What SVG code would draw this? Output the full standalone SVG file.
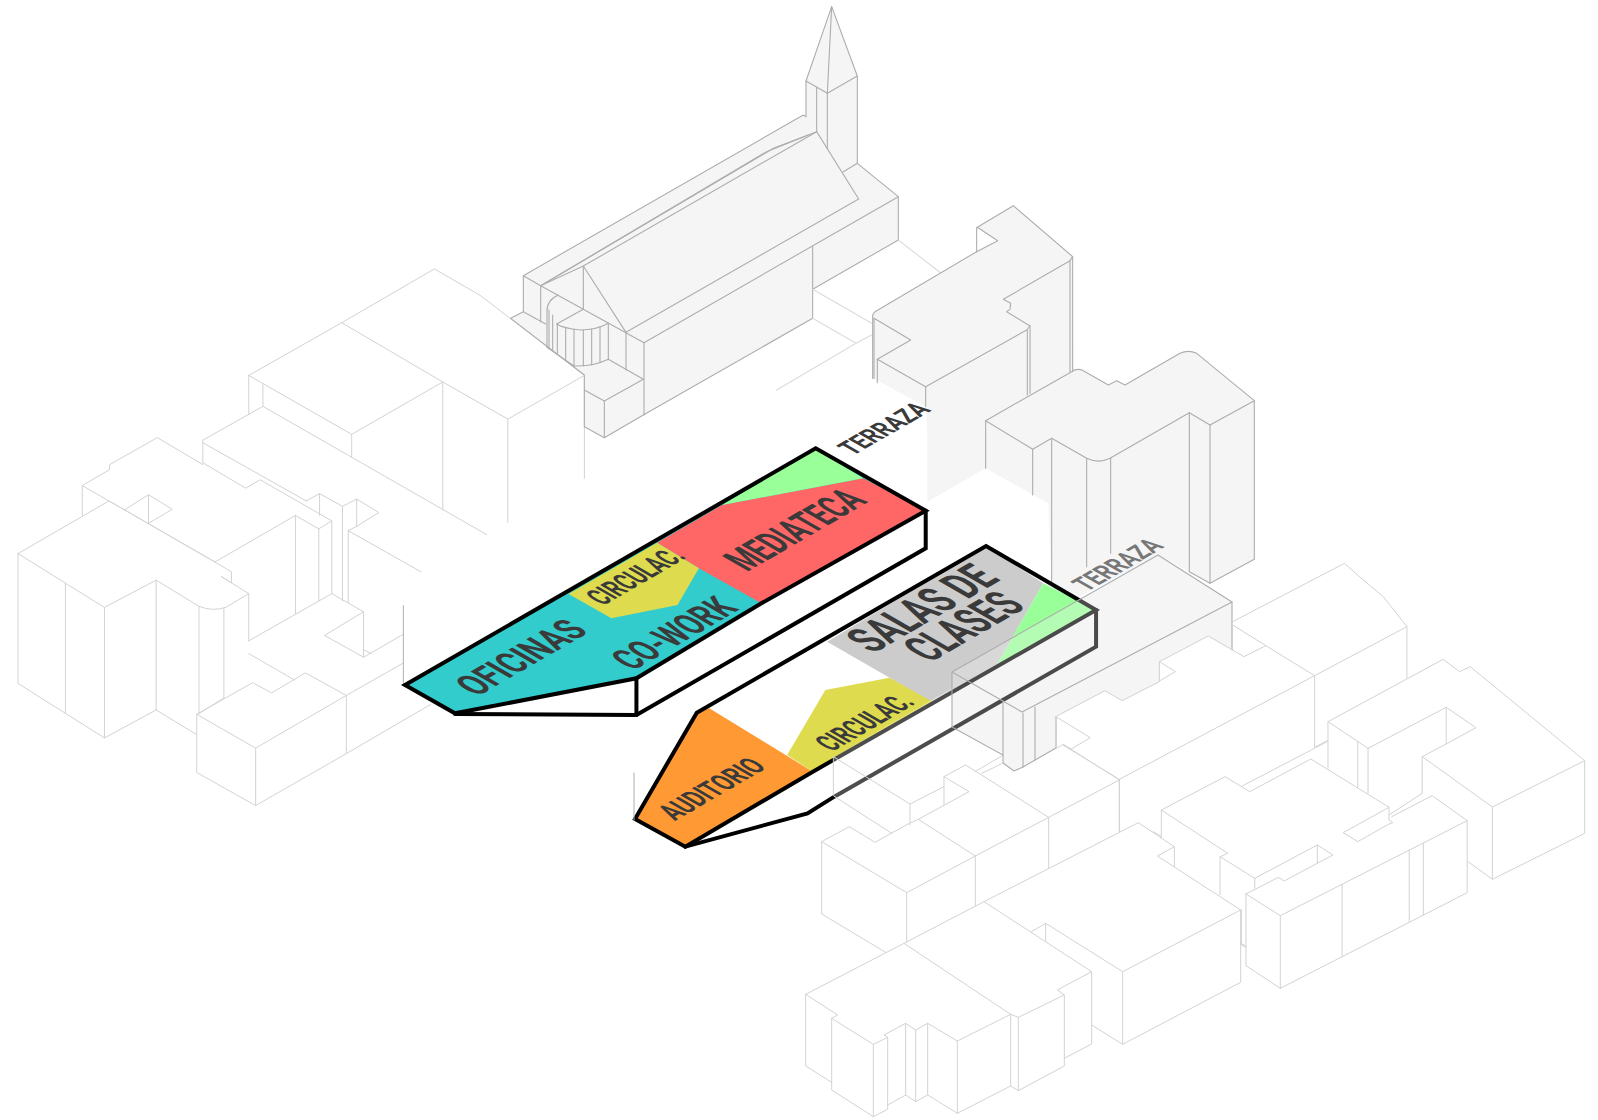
<svg xmlns="http://www.w3.org/2000/svg" width="1598" height="1120" viewBox="0 0 1598 1120">
<style>
polyline,polygon,path{vector-effect:non-scaling-stroke;stroke-linejoin:round;stroke-linecap:round}
.l polyline,.l path{fill:none;stroke:#d3d3d3;stroke-width:1}
.g polyline,.g path{fill:none;stroke:#adadad;stroke-width:1.1}
.f{fill:#f5f5f5;stroke:none}
.o{fill:none;stroke:#000;stroke-width:4;stroke-linejoin:miter}
text{font-family:Roboto,"Liberation Sans",sans-serif;font-weight:700;fill:#3a3a3a}
</style>
<rect width="1598" height="1120" fill="#fff"/>

<g id="edificios-izquierda" class="l" transform="translate(0,250) scale(.3827,.3636)">
<polyline points="650,345 893,200 1135,52 1255,125 1527,345 1327,465 1157,363 893,200"/>
<polyline points="650,345 919,507 1157,363"/>
<polyline points="1327,465 1327,750"/><polyline points="1157,363 1157,715"/><polyline points="919,507 919,570"/>
<polyline points="650,345 650,450"/><polyline points="687,368 687,430"/><polyline points="1527,345 1527,628"/>
<polyline points="530,523 687,430 1272,783"/><polyline points="530,523 530,585"/><polyline points="530,530 800,690"/>
<polyline points="530,585 642,655 680,632 867,745 867,945 950,995 950,1120 848,1060 950,995"/>
<polyline points="800,690 835,670 895,705 932,685 990,722 932,760 932,685"/>
<polyline points="835,670 835,730"/><polyline points="895,705 895,965"/><polyline points="910,770 910,970"/>
<polyline points="932,760 910,772 1100,885"/>
<polyline points="772,730 833,767 867,745"/><polyline points="833,767 833,965"/>
<polyline points="772,730 772,1000"/><polyline points="772,730 562,858"/>
<polyline points="47,835 285,690 605,885 605,915 578,898 650,945 590,983"/>
<path d="M590,983 Q555,995 520,980 L408,908 L273,983 L47,835"/>
<polyline points="47,835 47,1192 273,1342 273,983"/><polyline points="171,917 171,1275"/>
<polyline points="408,908 408,1265 273,1342"/><polyline points="408,1265 514,1333"/>
<polyline points="520,980 520,1275"/><polyline points="585,985 585,1232"/><polyline points="650,945 650,1075"/>
<polyline points="215,648 285,605 287,590 411,516 530,590"/><polyline points="215,648 215,730"/><polyline points="215,648 562,858"/>
<polyline points="325,715 388,673 450,713 388,752"/><polyline points="388,673 388,752"/>
<polyline points="650,1075 867,945"/><polyline points="650,1110 770,1183"/>
<polyline points="514,1277 660,1190 710,1218 798,1163 905,1225 668,1370 514,1277"/>
<polyline points="514,1277 514,1437 668,1528 668,1370"/><polyline points="668,1528 905,1385 905,1225"/>
<polyline points="905,1385 1125,1250"/><polyline points="905,1225 1052,1137"/><polyline points="950,1120 1052,1058"/>
<polyline points="952,1100 970,1110"/><polyline points="585,1232 520,1275"/>
<polyline style="stroke:#b0b0b0" points="1054,978 1054,1195"/>
</g>

<g id="iglesia" class="g" transform="translate(500,0) scale(.33333)">
<polygon class="f" points="995,20 1072,228 1072,490 1195,590 1195,720 938,868 938,955 430,1245 313,1313 253,1280 253,1125 32,955 70,935 70,827 910,345 918,350 918,243"/>
<polyline points="995,20 1072,228 1072,490 1195,590 1195,720 938,868 938,955 430,1245 313,1313 253,1280 253,1125 32,955 70,935 70,827 910,345 918,350 918,243 995,20"/>
<polyline points="918,243 982,280 1072,228"/><polyline points="982,280 995,20"/><polyline points="982,280 982,445"/><polyline points="950,262 950,395"/>
<polyline points="70,827 122,857 122,965"/><polyline points="70,935 137,972"/>
<polyline points="122,857 432,1028 432,1245"/>
<polyline points="250,798 950,395 1076,597 378,997 250,798"/>
<polyline points="122,857 250,798 250,928"/>
<polyline points="122,857 800,455 925,405"/><polyline points="135,850 820,445 950,395"/>
<polyline points="432,1028 1195,590"/><polyline points="1030,515 1072,490"/><polyline points="938,740 938,868"/>
<path d="M175,885 Q140,900 141,935 L141,1042"/><polyline points="170,972 250,928"/>
<path d="M170,972 Q190,985 240,990 Q290,990 325,970"/>
<path d="M141,1042 L222,1098 Q280,1100 325,1078"/>
<polyline points="147,930 147,1046"/><polyline points="158,945 158,1053"/><polyline points="172,972 172,1063"/><polyline points="197,982 197,1080"/><polyline points="222,988 222,1098"/><polyline points="250,990 250,1098"/><polyline points="275,987 275,1095"/><polyline points="300,980 300,1087"/><polyline points="325,970 325,1078"/>
<polyline points="378,997 378,1110"/><polyline points="325,1078 430,1138"/><polyline points="430,1138 313,1203 253,1170"/><polyline points="313,1203 313,1313"/>
<polyline style="stroke:#dcdcdc" points="938,868 1115,970"/><polyline style="stroke:#dcdcdc" points="938,955 1068,1030 1115,1005"/><polyline style="stroke:#dcdcdc" points="1068,1030 830,1170"/><polyline style="stroke:#dcdcdc" points="1195,720 1330,825"/>
</g>

<g id="edificios-fondo" class="g" transform="translate(850,190) scale(.33333)">
<polygon class="f" points="68,375 75,365 380,185 443,152 382,112 490,47 668,200 670,545 407,692 407,835 232,935 232,730 227,650 70,565"/>
<polygon class="f" points="407,692 665,545 680,538 697,540 775,585 800,572 825,585 990,490 1015,483 1040,490 1213,632 1213,1108 1080,1180 1018,1145 925,1095 680,1225 605,1270 605,1185 595,940 407,835"/>
<polyline points="68,565 68,375 75,365 380,185 443,152 382,112 490,47 668,200 668,545"/><polyline points="72,385 72,565"/>
<polyline points="72,385 182,450 82,508 227,590 530,420 540,408 470,365 480,358 482,340 460,328 660,212 668,200"/>
<polyline points="82,508 82,578"/><polyline points="227,590 227,650"/><polyline points="532,420 532,615"/><polyline points="540,408 540,610"/><polyline points="660,212 660,545"/><polyline points="380,112 380,185"/>
<path d="M407,835 L407,692 L665,545 Q682,533 700,542 L775,585 L800,572 L825,585 L990,490 Q1015,478 1040,490 L1213,632 L1213,1108 L1080,1180 L1018,1145"/>
<path d="M407,692 L548,778 L605,745 L710,805 Q745,822 780,805 L1018,668 L1080,705 L1213,632"/>
<polyline points="548,778 548,915"/><polyline points="605,745 605,1185"/><polyline points="710,805 710,1130"/><polyline points="782,805 782,1090"/><polyline points="1018,668 1018,1145"/><polyline points="1080,705 1080,1180"/>
</g>

<g id="terraza-base">
<polygon class="f" points="952,672 1158,555 1232,602 1232,650 1208,636 1160,661 1160,682 1122,701 1105,691 1056,717 1056,748 1023,767 1014,771 1003,763 1003,753 952,727"/>
</g>

<text transform="matrix(.866,-.5,.866,.5,853,456)" font-size="28" textLength="91" lengthAdjust="spacingAndGlyphs">TERRAZA</text>
<text transform="matrix(.866,-.5,.866,.5,1087,592)" font-size="28" textLength="90" lengthAdjust="spacingAndGlyphs" style="fill:#777">TERRAZA</text>

<g id="bloque-superior" transform="translate(390,420) scale(.35714,.33333)">
<polygon fill="#33cccc" points="42,795 1192,85 1500,272 1040,550 690,775 182,880"/>
<polygon fill="#ff6666" points="748,368 930,255 1325,175 1500,272 1040,550 865,445"/>
<polygon fill="#99ff99" points="930,255 1192,85 1325,175"/>
<polygon fill="#dfdb4e" points="500,522 748,368 865,445 805,555 620,595"/>
<polygon class="o" points="42,795 1192,85 1500,272 1040,550 690,775 182,880"/>
<polyline class="o" points="182,882 690,885 1500,385 1500,272"/>
<polyline class="o" points="690,775 690,885"/>
</g>

<g id="bloque-inferior" transform="translate(620,530) scale(.35714,.33333)">
<polygon fill="#ff9933" points="42,867 215,548 250,535 540,725 183,950"/>
<polygon fill="#cccccc" points="580,335 1025,48 1185,160 1055,405 870,515 755,443"/>
<polygon fill="#dfdb4e" points="755,443 875,515 540,725 468,675 575,480"/>
<polygon fill="#99ff99" points="1185,160 1333,240 1055,405"/>
<polygon class="o" points="42,867 215,548 1025,48 1333,240 540,725 183,950"/>
<polyline class="o" points="183,950 525,850 600,800 1333,350 1333,240"/>
</g>

<g id="terraza" class="g">
<polygon fill="#f5f5f5" fill-opacity=".3" points="952,672 1158,555 1232,602 1232,650 1208,636 1160,661 1160,682 1122,701 1105,691 1056,717 1056,748 1023,767 1014,771 1003,763 1003,753 952,727"/>
<polygon fill="#fff" fill-opacity=".3" points="834,757 952,688 952,727 972,739 850,808 834,797"/>
<polyline points="952,672 1158,555 1232,602 1022,712 952,672"/>
<polyline points="952,672 952,727 1003,755"/><polyline points="1232,602 1232,650"/>
<polyline points="1003,701 1003,763 1014,771 1023,767 1056,748 1056,717"/><polyline points="1023,713 1023,767"/><polyline points="1035,707 1035,760"/>
</g>

<g id="edificios-derecha" class="l" transform="translate(1000,550) scale(.38139,.33333)">
<polyline points="610,215 903,40 940,78 1005,140 1067,230 825,377 697,287 610,225"/>
<polyline points="1067,230 1067,385"/><polyline points="825,377 825,592 858,572"/>
<polyline points="146,590 146,500 275,422 320,452 418,395 418,335 546,258 640,320 697,287"/>
<polyline points="825,377 313,688 165,585 187,597 237,563 146,500"/>
<polyline points="313,688 313,845"/><polyline points="418,335 460,365 418,393"/>
<polyline points="860,655 860,515 1162,328 1205,365 1233,350 1533,632 1291,771 1107,620 1170,582 1170,472 1248,533 1170,582"/>
<polyline points="1170,472 965,595 860,515"/><polyline points="938,575 938,713"/><polyline points="965,595 965,730"/><polyline points="1107,620 1107,730"/>
<polyline points="1291,771 1291,988 1533,850 1533,632"/><polyline points="1291,988 1227,935"/>
<polyline points="423,780 590,680 655,725 815,627 1020,772 1020,810 1030,818 1020,822 938,875 900,848 1020,772"/>
<polyline points="635,708 858,575"/><polyline points="1020,795 1107,730"/>
<polyline points="423,865 423,780 597,910 577,920 668,985 832,885 873,915 745,993 730,982 645,1032"/>
<polyline points="832,885 832,940"/><polyline points="577,920 577,1035"/><polyline points="668,985 668,1015"/>
<polyline points="645,1032 735,1097 1225,812 1133,737 1027,800"/>
<polyline points="645,1032 645,1247 735,1315 735,1097"/><polyline points="735,1315 1225,1028 1225,812"/>
<polyline points="897,1003 897,1220"/><polyline points="1073,900 1073,1115"/><polyline points="1110,880 1110,1095"/>
<polyline points="633,1080 633,1185 645,1192"/>
</g>

<g id="edificios-sur" class="l" transform="translate(780,730) scale(.33333)">
<polyline points="372,640 612,515 1075,278 1183,350 1183,410"/><polyline points="1183,350 1132,378 1382,540 1028,725 797,580 755,605"/>
<polyline points="612,515 935,725"/><polyline points="1382,540 1382,757 1028,943 1028,725"/><polyline points="797,580 797,632"/>
<polyline points="935,885 1028,943"/><polyline points="1382,640 1398,648"/><polyline points="1018,150 1018,305"/><polyline points="1120,305 1145,320"/>
<polyline points="77,793 372,640 692,853 532,933 443,880 407,900 377,880 312,915 323,922 280,943 155,865 173,855 77,793"/>
<polyline points="77,793 77,1008 155,1057"/><polyline points="155,865 155,1080 280,1160 280,943"/><polyline points="280,1160 323,1138 323,922"/>
<polyline points="323,1125 377,1095 407,1115 443,1095 532,1150 532,933"/><polyline points="377,880 377,1095"/><polyline points="407,900 407,1115"/><polyline points="443,880 443,1095"/>
<polyline points="532,1150 692,1068 692,853"/><polyline points="692,1068 715,1082 715,862 692,853"/><polyline points="715,1082 853,1008 853,795 715,862"/>
<polyline points="853,795 832,780 935,725 935,942 853,985"/>
<polyline points="125,335 208,290 285,337 388,280 415,268 586,378 380,488 125,335"/><polyline points="125,335 125,552 317,667"/><polyline points="380,488 380,637"/><polyline points="586,378 586,528"/>
<polyline points="415,268 567,185 492,140 557,105 806,262 586,378"/><polyline points="492,140 492,225"/><polyline points="806,262 806,415"/>
<polyline points="806,262 1018,150 850,43 828,55"/><polyline points="585,125 665,78"/><polyline points="605,130 668,100"/>
<polyline points="160,80 390,222 390,285"/><polyline points="160,80 160,197 335,310"/><polyline points="390,222 492,170"/>
</g>

<g id="etiquetas">
<text transform="matrix(.866,-.5,.866,.5,477,697)" font-size="41" textLength="130" lengthAdjust="spacingAndGlyphs">OFICINAS</text>
<text transform="matrix(.866,-.5,.866,.5,633,671)" font-size="41" textLength="123" lengthAdjust="spacingAndGlyphs">CO-WORK</text>
<text transform="matrix(.866,-.5,.866,.5,747,572)" font-size="43" textLength="140" lengthAdjust="spacingAndGlyphs">MEDIATECA</text>
<text transform="matrix(.866,-.5,.866,.5,603,606)" font-size="32" textLength="97" lengthAdjust="spacingAndGlyphs">CIRCULAC.</text>
<text transform="matrix(.866,-.5,.866,.5,873,654)" font-size="50" textLength="148" lengthAdjust="spacingAndGlyphs">SALAS DE</text>
<text transform="matrix(.866,-.5,.866,.5,930,663)" font-size="50" textLength="112" lengthAdjust="spacingAndGlyphs">CLASES</text>
<text transform="matrix(.866,-.5,.866,.5,832,752)" font-size="32" textLength="97" lengthAdjust="spacingAndGlyphs">CIRCULAC.</text>
<text transform="matrix(.866,-.5,.866,.5,675,821)" font-size="32" textLength="107" lengthAdjust="spacingAndGlyphs">AUDITORIO</text>
</g>

<polyline points="634,773 634,820" fill="none" stroke="#adadad" stroke-width="1"/>
</svg>
